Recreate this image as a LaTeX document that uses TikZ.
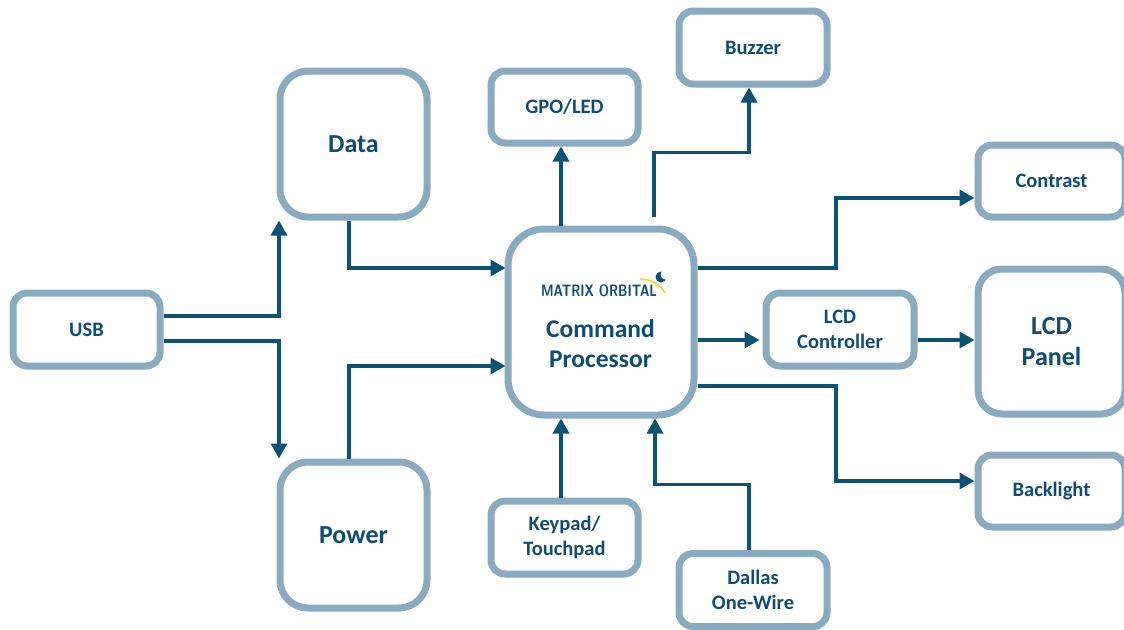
\documentclass[tikz,border=0pt]{standalone}
\usepackage{fontspec}
\setmainfont{Carlito}
\usetikzlibrary{arrows.meta,calc}
\definecolor{boxline}{HTML}{8AAABF}
\definecolor{wire}{HTML}{0B5274}
\definecolor{lab}{HTML}{0F4C73}
\tikzset{
  blk/.style={draw=boxline,line width=7pt,fill=white,rounded corners=#1,inner sep=0pt,text=lab,align=center,font=\bfseries},
  blk/.default=14pt,
  wirearrow/.style={draw=wire,line width=3.4pt,-{Triangle[length=15pt,width=16pt]}},
  small/.style={font=\fontsize{20.5}{25}\selectfont\bfseries},
  big/.style={font=\fontsize{26}{31}\selectfont\bfseries},
}
\begin{document}
\begin{tikzpicture}[x=1pt,y=-1pt]
\useasboundingbox (0,0) rectangle (1124,629);
\clip (0,0) rectangle (1124,629);
\node[blk,small,minimum width=147pt,minimum height=73pt] (usb) at (86.5,329.5) {USB};
\node[blk=28pt,big,minimum width=147pt,minimum height=146pt] (data) at (353.5,144) {\raisebox{-1pt}{Data}};
\node[blk=28pt,big,minimum width=147pt,minimum height=146pt] (power) at (353.5,535) {Power};
\node[blk,small,minimum width=147pt,minimum height=72pt] (gpo) at (564.5,107) {GPO/LED};
\node[blk,small,minimum width=148pt,minimum height=73pt] (buzzer) at (753,47.5) {Buzzer};
\node[blk,small,minimum width=147pt,minimum height=73pt] (keypad) at (564.5,537.5) {Keypad/\\Touchpad};
\node[blk,small,minimum width=148pt,minimum height=73pt] (dallas) at (753,590) {Dallas\\One-Wire};
\node[blk=36pt,minimum width=186pt,minimum height=186pt] (cp) at (601,322) {};
\node[font=\fontsize{25.5}{30}\selectfont\bfseries,text=lab,align=center,anchor=center] (cptext) at (600.5,344) {Command\\Processor};
\node[font=\fontsize{16.5}{18}\selectfont\sffamily\bfseries,text=lab,inner sep=0pt,xscale=.78] (logo) at (599,290.5) {\addfontfeature{LetterSpace=-3}MATRIX ORBITAL};
\coordinate (arcA) at (640,279);
\coordinate (arcB) at (665,293);
\draw[draw=yellow!75!orange,line width=1.4pt] (arcA) .. controls (650,279) and (660,284) .. (arcB);
\fill[lab] (661,277) circle (5.5pt);
\fill[white] (665.5,274.5) circle (5pt);
\node[blk,small,minimum width=147pt,minimum height=72pt] (contrast) at (1051.5,181) {Contrast};
\node[blk,small,minimum width=148pt,minimum height=73pt] (ctrl) at (840,329.5) {LCD\\Controller};
\node[blk=24pt,big,minimum width=147pt,minimum height=145pt] (panel) at (1051.5,341.5) {LCD\\Panel};
\node[blk,small,minimum width=147pt,minimum height=72pt] (back) at (1051.5,491) {Backlight};

\coordinate (u1) at ($(usb.east)+(0,-13.5)$);
\coordinate (u2) at ($(usb.east)+(0,11.5)$);
\coordinate (dIn) at ($(data.south)+(-74.5,0)$);
\coordinate (pIn) at ($(power.north)+(-74.5,0)$);
\coordinate (dOut) at ($(data.south)+(-4.5,0)$);
\coordinate (pOut) at ($(power.north)+(-4.5,0)$);
\coordinate (cpD) at ($(cp.west)+(1,-54)$);
\coordinate (cpP) at ($(cp.west)+(1,44)$);
\coordinate (cpG) at ($(cp.north)+(-40,0)$);
\coordinate (gIn) at ($(gpo.south)+(-3.5,0)$);
\coordinate (cpB) at ($(cp.north)+(53,-8.5)$);
\coordinate (bIn) at ($(buzzer.south)+(-4,0)$);
\coordinate (bMid) at ($(cpB)!.5!(bIn)$);
\coordinate (cpC) at ($(cp.east)+(0,-54)$);
\coordinate (cIn) at ($(contrast.west)+(0,17)$);
\coordinate (cMid) at ($(cpC)!.5!(cIn)$);
\coordinate (cpL) at ($(cp.east)+(0,18)$);
\coordinate (lIn) at ($(ctrl.west)+(-3,10.5)$);
\coordinate (lOut) at ($(ctrl.east)+(0,10.5)$);
\coordinate (pnIn) at ($(panel.west)+(0,-1.5)$);
\coordinate (cpK) at ($(cp.east)+(0,64)$);
\coordinate (kIn) at ($(back.west)+(0,-10)$);
\coordinate (kMid) at ($(cpK)!.5!(kIn)$);
\coordinate (kpOut) at ($(keypad.north)+(-3.5,0)$);
\coordinate (cpKp) at ($(cp.south)+(-40,0)$);
\coordinate (dlOut) at ($(dallas.north)+(-4,0)$);
\coordinate (cpDl) at ($(cp.south)+(54,0)$);
\coordinate (dlMid) at ($(dlOut)!.5!(cpDl)$);
\draw[wirearrow] (u1) -| (dIn);
\draw[wirearrow] (u2) -| (pIn);
\draw[wirearrow] (dOut) |- (cpD);
\draw[wirearrow] (pOut) |- (cpP);
\draw[wirearrow] (cpG) -- (gIn);
\draw[wirearrow] (cpB) |- (bMid) -| (bIn);
\draw[wirearrow] (cpC) -| (cMid) |- (cIn);
\draw[wirearrow] (cpL) -- (lIn);
\draw[wirearrow] (lOut) -- (pnIn);
\draw[wirearrow] (cpK) -| (kMid) |- (kIn);
\draw[wirearrow] (kpOut) -- (cpKp);
\draw[wirearrow] (dlOut) |- (dlMid) -| (cpDl);
\end{tikzpicture}
\end{document}
